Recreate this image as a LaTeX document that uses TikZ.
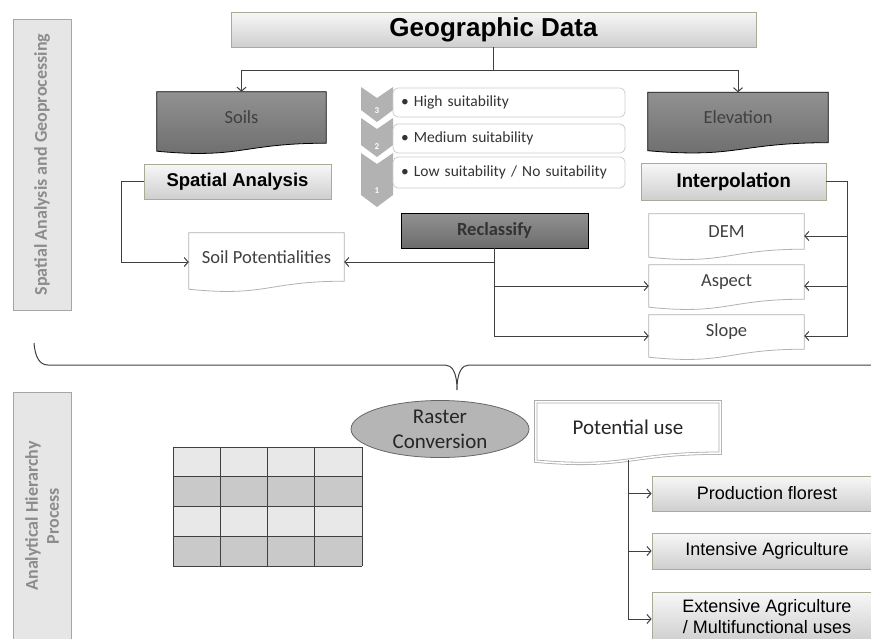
\documentclass[tikz,border=0pt]{standalone}
\usepackage{fontspec}
\setmainfont{Carlito}
\newfontfamily\arialfont{Liberation Sans}
\usepackage{tikz}
\usetikzlibrary{calc}
\usetikzlibrary{shapes.geometric}
\usetikzlibrary{arrows.meta}
\pgfdeclarelayer{background}
\pgfsetlayers{background,main}

\definecolor{boxline}{RGB}{170,170,150}
\definecolor{lineclr}{RGB}{64,64,64}
\definecolor{darktop}{RGB}{145,145,145}
\definecolor{darkbot}{RGB}{108,108,108}
\definecolor{sidefill}{RGB}{230,230,230}
\definecolor{sidetext}{RGB}{140,140,140}
\definecolor{chevclr}{RGB}{178,178,178}
\definecolor{gridlight}{RGB}{232,232,232}
\definecolor{griddark}{RGB}{201,201,201}

% document shape with a wavy bottom, drawn behind node #2
\newcommand{\docshape}[2][]{%
  \begin{pgfonlayer}{background}
  \path[#1] (#2.north west) -- (#2.north east) -- (#2.south east)
    .. controls ($(#2.south west)!0.5!(#2.south east)$) and ($(#2.south west)!0.5!(#2.south east)+(0,16)$)
    .. ($(#2.south west)+(0,8)$) -- cycle;
  \end{pgfonlayer}}

\begin{document}
\begin{tikzpicture}[x=1pt,y=-1pt,
    conn/.style={draw=lineclr, line width=1pt, -{Straight Barb[length=4pt,width=9pt]}},
    graybox/.style={draw=boxline, line width=0.8pt, top color=gray!6, bottom color=gray!38, inner sep=0},
    docnode/.style={rectangle, inner sep=0},
    darktxt/.style={text=black!75, font=\fontsize{18.5}{22}\selectfont},
    suitbox/.style={draw=gray!40, line width=0.8pt, rounded corners=5pt, fill=white, minimum width=232,
      text width=216, inner xsep=8, inner ysep=0, align=left, text=black!80, font=\fontsize{15.5}{18}\selectfont},
    sidebar/.style={draw=gray!70, fill=sidefill, rotate=90, inner sep=0, align=center,
      text=sidetext, font=\fontsize{18}{21}\selectfont\bfseries}]
\useasboundingbox (0,0) rectangle (871,638);

% side bars
\node[sidebar, minimum width=291, minimum height=58] (geobar) at (42,164.5) {Spatial Analysis and Geoprocessing};
\node[sidebar, minimum width=248, minimum height=58] (ahpbar) at (42,516) {Analytical Hierarchy\\Process};

% upper part
\node[graybox, minimum width=525, minimum height=35, font=\arialfont\fontsize{26}{30}\selectfont\bfseries] (geo) at (493.5,29.5) {Geographic Data};

\node[docnode, darktxt, minimum width=169, minimum height=51] (soils) at (241.5,117.5) {Soils};
\docshape[draw=black, line width=0.8pt, top color=darktop, bottom color=darkbot]{soils}
\node[docnode, darktxt, minimum width=180, minimum height=50] (elev) at (738,117.5) {Elevation};
\docshape[draw=black, line width=0.8pt, top color=darktop, bottom color=darkbot]{elev}

\node[graybox, minimum width=187, minimum height=35, font=\arialfont\fontsize{18.5}{22}\selectfont\bfseries] (spatial) at (237.5,181.5) {Spatial Analysis};
\node[graybox, minimum width=185, minimum height=37, font=\fontsize{21}{25}\selectfont\bfseries] (interp) at (733.5,181.5) {Interpolation};

% suitability classes
\foreach \t/\b/\n/\ny in {87/110/3/111, 118/145/2/147, 153/195/1/191} {
  \fill[chevclr] (361,\t) -- (377,\t+11) -- (393,\t) -- (393,\b) -- (377,\b+12) -- (361,\b) -- cycle;
  \node[text=white, font=\fontsize{9}{10}\selectfont\bfseries] at (377,\ny) {\n};
}
\node[suitbox, minimum height=29] (high) at (509,102.5) {\textbullet\ High suitability};
\node[suitbox, minimum height=29] (medium) at (509,138.5) {\textbullet\ Medium suitability};
\node[suitbox, minimum height=31] (low) at (509,172.5) {\textbullet\ Low suitability / No suitability};

\node[draw=black, line width=0.8pt, top color=darktop, bottom color=darkbot, minimum width=187, minimum height=35,
  inner sep=0, text=black!80, font=\fontsize{18.5}{22}\selectfont\bfseries] (reclass) at (494.5,230.5) {Reclassify};

\node[docnode, darktxt, minimum width=155, minimum height=48] (soilpot) at (266.5,257) {Soil Potentialities};
\docshape[draw=gray!60, line width=0.8pt, fill=white]{soilpot}
\node[docnode, darktxt, minimum width=155, minimum height=35] (dem) at (726.5,231.5) {DEM};
\docshape[draw=gray!60, line width=0.8pt, fill=white]{dem}
\node[docnode, darktxt, minimum width=155, minimum height=34] (aspect) at (726.5,282) {Aspect};
\docshape[draw=gray!60, line width=0.8pt, fill=white]{aspect}
\node[docnode, darktxt, minimum width=155, minimum height=34] (slope) at (726.5,332) {Slope};
\docshape[draw=gray!60, line width=0.8pt, fill=white]{slope}

\draw[conn] (geo.south) -- ++(0,23) -| (soils.north);
\draw[conn] (geo.south) -- ++(0,23) -| (elev.north);
\draw[conn] (spatial.west) -- ++(-22,0) |- ([yshift=-5pt]soilpot.west);
\draw[conn] (reclass.south) |- ([yshift=-5pt]soilpot.east);
\draw[conn] (reclass.south) |- ([yshift=-4pt]aspect.west);
\draw[conn] (reclass.south) |- ([yshift=-4pt]slope.west);
\draw[conn] (interp.east) -- ++(21,0) |- ([yshift=-4.5pt]dem.east);
\draw[conn] (interp.east) -- ++(21,0) |- ([yshift=-4pt]aspect.east);
\draw[conn] (interp.east) -- ++(21,0) |- ([yshift=-4pt]slope.east);

% brace
\draw[lineclr, line width=1pt] (34,343) .. controls (35,356) and (39,365) .. (48,365) -- (445,365)
  .. controls (452,365) and (457,372) .. (457,390) .. controls (457,372) and (462,365) .. (469,365) -- (880,365);

% lower part
\foreach \r/\clr in {0/gridlight, 1/griddark, 2/gridlight, 3/griddark}
  \fill[\clr] (173,447+\r*29.75) rectangle ++(189,29.75);
\foreach \i in {0,...,4} {
  \draw[lineclr, line width=1pt] (173+\i*47.25,447) -- ++(0,119);
  \draw[lineclr, line width=1pt] (173,447+\i*29.75) -- ++(189,0);
}

\node[ellipse, draw=black!60, line width=0.8pt, fill=gray!58, minimum width=178, minimum height=57, inner sep=0,
  align=center, text=black!85, font=\fontsize{21}{25}\selectfont] (raster) at (440,429) {Raster\\Conversion};

\node[docnode, text=black!85, font=\fontsize{21}{25}\selectfont, minimum width=184, minimum height=51] (pot) at (628,427.5) {Potential use};
\docshape[draw=gray!65, line width=0.8pt, double=white, double distance=1.6pt, fill=white]{pot}

\node[graybox, minimum width=230, minimum height=35, font=\arialfont\fontsize{18}{21}\selectfont] (prod) at (767,493.5) {Production florest};
\node[graybox, minimum width=230, minimum height=36, font=\arialfont\fontsize{18}{21}\selectfont] (intens) at (767,551) {Intensive Agriculture};
\node[graybox, minimum width=230, minimum height=50, align=center, font=\arialfont\fontsize{18}{21}\selectfont] (extens) at (767,617) {Extensive Agriculture\\/ Multifunctional uses};

\draw[conn] ([yshift=-7pt]pot.south) |- (prod.west);
\draw[conn] ([yshift=-7pt]pot.south) |- (intens.west);
\draw[conn] ([yshift=-7pt]pot.south) |- ([yshift=-2pt]extens.west);
\end{tikzpicture}
\end{document}
